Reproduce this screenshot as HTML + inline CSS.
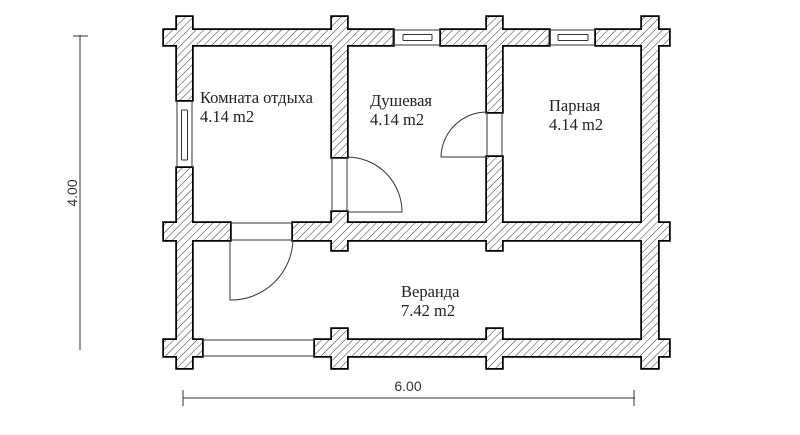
<!DOCTYPE html>
<html><head><meta charset="utf-8"><style>
html,body{margin:0;padding:0;background:#fff}
svg{display:block}
text{font-family:"Liberation Serif",serif;font-size:16.5px;fill:#222}
.s{font-family:"Liberation Sans",sans-serif;font-size:14px;fill:#333}
</style></head><body>
<svg width="800" height="435" viewBox="0 0 800 435" xmlns="http://www.w3.org/2000/svg">
<defs>
<pattern id="h" patternUnits="userSpaceOnUse" width="5.5" height="5.5" patternTransform="rotate(45)">
<rect width="5.5" height="5.5" fill="#fff"/><line x1="0" y1="0" x2="0" y2="5.5" stroke="#333" stroke-width="1"/>
</pattern>
<g id="walls">
<rect x="164" y="30" width="229" height="15"/>
<rect x="441" y="30" width="108" height="15"/>
<rect x="596" y="30" width="73" height="15"/>
<rect x="177" y="17" width="15" height="83"/>
<rect x="177" y="168" width="15" height="200"/>
<rect x="332" y="17" width="15" height="140"/>
<rect x="332" y="212" width="15" height="38"/>
<rect x="487" y="17" width="15" height="95"/>
<rect x="487" y="157" width="15" height="93"/>
<rect x="642" y="17" width="16" height="351"/>
<rect x="164" y="223" width="66" height="17"/>
<rect x="293" y="223" width="376" height="17"/>
<rect x="164" y="340" width="38" height="16"/>
<rect x="315" y="340" width="354" height="16"/>
<rect x="332" y="329" width="15" height="39"/>
<rect x="487" y="329" width="15" height="39"/>
</g>
</defs>
<use href="#walls" fill="none" stroke="#000" stroke-width="3.5"/>
<use href="#walls" fill="url(#h)" stroke="none"/>
<g stroke="#333" stroke-width="1" fill="none">
<path d="M393 30H441M393 45H441M403 34.5H432M403 40.5H432M403 34.5V40.5M432 34.5V40.5M393 30V45"/>
<path d="M549 30H596M549 45H596M558 34.5H588M558 40.5H588M558 34.5V40.5M588 34.5V40.5M549 30V45"/>
<path d="M177 100V168M192 100V168M181.5 110V160M187.5 110V160M181.5 110H187.5M181.5 160H187.5"/>
<path d="M202 340H315M202 356H315"/>
<path d="M230 223H293M230 240H293M230 240V300A62 62 0 0 0 293 240"/>
<path d="M332 157V212M347 157V212M347 212H402A55 55 0 0 0 347 157"/>
<path d="M487 112V157M502 112V157M487 157H441A46 46 0 0 1 487 112"/>
<path d="M80 35V350M73 36H88M183 398H635M183 390V406M634 390V406"/>
</g>
<text x="200" y="103">Комната отдыха</text>
<text x="200" y="122">4.14 m2</text>
<text x="370" y="106">Душевая</text>
<text x="370" y="125">4.14 m2</text>
<text x="549" y="111">Парная</text>
<text x="549" y="130">4.14 m2</text>
<text x="401" y="297">Веранда</text>
<text x="401" y="316">7.42 m2</text>
<text class="s" x="408" y="391" text-anchor="middle">6.00</text>
<text class="s" x="0" y="0" text-anchor="middle" transform="translate(77,193) rotate(-90)">4.00</text>
</svg>
</body></html>
